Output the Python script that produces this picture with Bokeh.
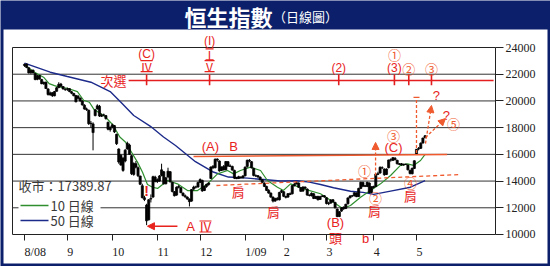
from bokeh.plotting import figure
from bokeh.models import Range1d, FixedTicker, Arrow, NormalHead, TeeHead, LinearAxis
from bokeh.core.properties import value
from bokeh.embed import file_html
from bokeh.resources import INLINE

# ---------------- data ----------------
# daily Hang Seng Index candles, trading-day index 0 = 1 Aug 2008 ... 187 = 8 May 2009
opens = [
    22650, 22760, 22480, 22120, 22300, 22050, 21620, 21900, 21600, 21300, 21400, 20900, 20450, 20620, 20380, 20720, 21000, 21260, 21080, 20880,
    20880, 20920, 20680, 20560, 20400, 20350, 20220, 19990, 19680, 19400, 19300, 18330, 18280, 18900, 19400, 19600, 18850, 18950, 18900, 18400, 17850,
    18050, 18150, 17500, 16400, 15200, 15700, 15500, 16400, 16700, 15900, 14500, 15300, 15000, 14380, 13650, 12750, 12200, 11100, 12650, 12800, 14300,
    14100, 14000, 14420, 14700, 13800, 14300, 14700, 13900, 13200, 12950, 13600, 13500, 13100, 12900, 12800, 12650, 12500, 13400, 13560, 13560,
    13900, 14050, 13300, 13600, 13750, 14200, 15100, 15000, 15650, 15500, 14800, 15100, 14850, 15450, 15100, 15100, 14800, 14250, 14200, 14300, 14250,
    14400, 15100, 15550, 15450, 14950, 14400, 14400, 14300, 14100, 13850, 13600, 13300, 13100, 12800, 12500, 12700, 12600, 13200,
    13200, 12850, 12800, 13050, 13050, 13650, 13780, 13850, 13500, 13250, 13550, 13400, 12950, 12900, 13050, 12700, 12850, 12620, 12850, 12900,
    12750, 12300, 12350, 12600, 12400, 11900, 11350, 11750, 12050, 11950, 12300, 12750, 12900, 12900, 13100, 12850, 13450, 13900, 13650, 13600, 13850, 13150,
    13600, 13600, 14500, 14600, 15000, 14900, 14500, 15000, 15600, 15550, 15700, 15550, 15250, 15300, 15200, 15250, 15200, 14800, 14550, 14950,
    16000, 16400, 16450, 16850, 17250,
]
highs = [
    22800, 22800, 22500, 22350, 22350, 22100, 21950, 21950, 21650, 21450, 21450, 20950, 20700, 20650, 20750, 21050, 21400, 21350, 21100, 20950,
    21000, 20950, 20750, 20600, 20450, 20450, 20250, 20050, 19750, 19500, 19350, 18500, 18400, 19400, 19750, 19700, 19050, 19050, 18950, 18450, 18100,
    18300, 18200, 17550, 16450, 16000, 15800, 16400, 16950, 16800, 15950, 15400, 15500, 15100, 14400, 13800, 12900, 12300, 12650, 13000, 14400, 14400,
    14200, 14450, 15300, 14750, 14300, 15000, 14750, 13950, 13250, 13600, 13700, 13550, 13150, 13000, 12850, 12700, 13400, 13650, 13650, 13950,
    14200, 14100, 13650, 13800, 13900, 15100, 15200, 15700, 15700, 15550, 15100, 15200, 15500, 15500, 15250, 15150, 14850, 14300, 14400, 14350, 14400,
    15100, 15600, 15650, 15500, 15000, 14500, 14450, 14350, 14150, 13900, 13650, 13400, 13150, 12850, 12750, 12800, 13200, 13350,
    13250, 12900, 13100, 13150, 13700, 13850, 14000, 13900, 13550, 13600, 13600, 13450, 13000, 13150, 13100, 12900, 12900, 12900, 12950, 12950,
    12800, 12450, 12650, 12650, 12450, 11950, 11750, 12050, 12100, 12300, 12780, 12950, 12950, 13150, 13150, 13500, 13950, 13950, 13700, 13950, 13900, 13600,
    13650, 14550, 14700, 15100, 15100, 14950, 14950, 15600, 15700, 15800, 15800, 15600, 15350, 15350, 15300, 15300, 15250, 14850, 15000, 15550,
    16400, 16550, 16900, 17250, 17450,
]
lows = [
    22550, 22450, 22050, 22000, 22050, 21550, 21550, 21600, 21250, 21200, 20900, 20400, 20400, 20300, 20350, 20700, 20950, 21050, 20850, 20750,
    20750, 20650, 20500, 20350, 19900, 20100, 19950, 19650, 19350, 19250, 18200, 18000, 16300, 18850, 19350, 18800, 18800, 18850, 18600, 17800, 17700,
    17950, 17600, 16700, 15300, 15150, 14700, 15400, 16350, 15950, 14450, 14400, 14950, 14300, 13700, 12700, 12500, 10700, 11050, 12400, 12750, 13900,
    13850, 13950, 14350, 13750, 13750, 14250, 13900, 13150, 12850, 12900, 13450, 13100, 12850, 12750, 12600, 12100, 12450, 13300, 13450, 13500,
    13850, 13200, 13250, 13500, 13650, 14150, 14900, 14950, 15450, 14700, 14750, 14800, 14800, 15050, 15050, 14780, 14150, 14150, 14150, 14200, 14200,
    14350, 15000, 15400, 14950, 14350, 14300, 14250, 14050, 13850, 13550, 13250, 13050, 12750, 12400, 12450, 12550, 12550, 13100,
    12800, 12700, 12750, 12950, 13000, 13600, 13750, 13500, 13200, 13200, 13400, 12900, 12850, 12850, 12650, 12650, 12550, 12600, 12800, 12750,
    12250, 12200, 12300, 12400, 11950, 11300, 11300, 11700, 11850, 11900, 12250, 12700, 12800, 12850, 12800, 12800, 13400, 13550, 13550, 13550, 13100, 13100,
    13450, 13550, 14450, 14550, 14900, 14400, 14450, 14950, 15450, 15500, 15550, 15250, 15200, 15150, 15150, 15200, 14800, 14500, 14500, 14900,
    15950, 16300, 16400, 16800, 17200,
]
closes = [
    22740, 22510, 22100, 22270, 22100, 21600, 21880, 21640, 21290, 21390, 20930, 20480, 20600, 20390, 20700, 20980, 21250, 21100, 20900, 20850,
    20900, 20700, 20580, 20390, 19930, 20200, 20000, 19700, 19390, 19350, 18300, 18300, 17630, 19330, 19630, 18870, 18930, 18950, 18680, 17880, 18020,
    18210, 17680, 16800, 15430, 15940, 14800, 16310, 16830, 16000, 14550, 15320, 15040, 14400, 13760, 12760, 12620, 11020, 12600, 12700, 14330, 13970,
    13970, 14380, 14840, 13790, 14240, 14740, 13940, 13220, 12900, 13540, 13530, 13130, 12920, 12820, 12660, 12460, 13370, 13550, 13550, 13890,
    14110, 13260, 13590, 13760, 13850, 15050, 15000, 15630, 15570, 14760, 15050, 14830, 15460, 15130, 15130, 14820, 14220, 14180, 14330, 14240, 14390,
    15040, 15560, 15510, 14990, 14420, 14380, 14300, 14100, 13900, 13600, 13300, 13100, 12800, 12500, 12700, 12600, 13150, 13280,
    12860, 12780, 13060, 13000, 13660, 13770, 13880, 13540, 13230, 13560, 13460, 12950, 12920, 13090, 12700, 12840, 12600, 12830, 12890, 12810,
    12320, 12330, 12580, 12430, 12000, 11340, 11700, 12000, 11920, 12260, 12740, 12880, 12880, 13130, 12830, 13450, 13910, 13620, 13610, 13910, 13130, 13580,
    13520, 14520, 14550, 15030, 14990, 14470, 14900, 15580, 15570, 15750, 15600, 15290, 15290, 15210, 15260, 15260, 14840, 14560, 14960, 15520,
    16380, 16430, 16830, 17220, 17389.87,
]
days = list(range(len(closes)))

# moving averages (trading-day index, value)
ma10_day = [0, 4.7, 8.9, 11.5, 14, 16, 20, 24.7, 27.6, 30.3, 32.5, 37.5, 41.3, 44.5, 47.2, 50.4, 52.8, 55.1, 57.4, 59.8,
            62.1, 66.8, 71.4, 76.1, 80.8, 85.4, 90.1, 94.8, 97.6, 100.8, 105.5, 110.2, 113.4, 118.1, 120.9, 124.2,
            130.3, 138.2, 144.3, 148.5, 152.2, 156.9, 161.5, 166.2, 170.9, 175.5, 178.8, 181.6, 184.9, 187]
ma10_val = [22700, 22150, 21780, 21300, 21150, 21050, 20950, 20700, 20050, 19900, 19350, 18850, 18200, 17300, 16910, 16050, 15400, 14660, 13750, 13540,
            13450, 14040, 13790, 13290, 13290, 13790, 14540, 14790, 14540, 14790, 15040, 14790, 14040, 13540, 13300, 13790,
            13420, 13050, 12420, 11950, 12170, 12790, 13290, 13790, 14420, 15170, 15290, 15170, 15540, 16000]
ma50_day = [0, 12, 20, 31, 40, 45, 51, 58.8, 64.9, 70.5, 79.8, 87.8, 95.2, 104.1, 111.6, 119.5, 127.5, 133, 138.2, 144.3,
            152.2, 158, 163, 170.9, 180.2, 187]
ma50_val = [22830, 22150, 21830, 21400, 20700, 19900, 18910, 18100, 17300, 16660, 15450, 14700, 14300, 14220, 14120, 14000, 14020, 13920, 13740, 13500,
            13240, 13150, 13000, 13250, 13540, 14040]

month_ticks = [0, 20, 41, 62, 82, 103, 121, 141, 163, 183]
month_labels = ["8/08", "9", "10", "11", "12", "1/09", "2", "3", "4", "5"]
y_ticks = [10000, 12000, 14000, 16000, 18000, 20000, 22000, 24000]
last_close = "17389.87"

# ---------------- layout helpers ----------------
W, H = 550, 266
PX_DAY = 2.142          # pixels per trading day
X0_PX = 24.0            # pixel of day 0
Y_TOP_PX = 47.0         # pixel of 24000
PX_UNIT = 0.013357      # pixels per index point


def px2x(px):
    return (px - X0_PX) / PX_DAY


def px2y(py):
    return y_ticks[-1] - (py - Y_TOP_PX) / PX_UNIT


NAVY = "#0b1f6b"
RED = "#e8231d"
ORANGE = "#ef5a2e"
GREEN = "#2f8f2f"
BLUE = "#1c2a8a"
SANS = "Liberation Sans"
CJK = "Noto Sans CJK TC"
SERIF = "Liberation Serif"

p = figure(width=W, height=H, output_backend="svg", toolbar_location=None,
           x_range=Range1d(px2x(0), px2x(W)), y_range=Range1d(px2y(H), px2y(0)),
           min_border=0, x_axis_location="below", y_axis_location="right")
p.background_fill_color = NAVY
p.border_fill_color = NAVY
p.outline_line_color = None
p.xgrid.visible = False
p.ygrid.visible = False

# white panel
p.quad(left=px2x(3), right=px2x(547), bottom=px2y(263), top=px2y(29),
       fill_color="white", line_color=None)

XL = px2x(12)
XR = px2x(495)

# frame lines and grid
p.line(x=[XL, XL, XR], y=[y_ticks[0], y_ticks[-1], y_ticks[-1]], line_color="#222222", line_width=1)
p.segment(x0=[XL] * (len(y_ticks) - 2), x1=[XR] * (len(y_ticks) - 2),
          y0=y_ticks[1:-1], y1=y_ticks[1:-1], line_color="#333333", line_width=1)

# legend box (hides grid behind it)
p.quad(left=px2x(18), right=px2x(100), bottom=px2y(231), top=px2y(196),
       fill_color="white", line_color=None)

# title
p.text(x=[px2x(228)], y=[px2y(15)], text=["恒生指數"], text_font=value(CJK), text_font_size="22px",
       text_font_style="bold", text_color="white", text_align="center", text_baseline="middle")
p.text(x=[px2x(305)], y=[px2y(16)], text=["（日線圖）"], text_font=value(CJK), text_font_size="13px",
       text_color="white", text_align="center", text_baseline="middle")

# moving averages
p.line(x=ma50_day, y=ma50_val, line_color=BLUE, line_width=1.4)
p.line(x=ma10_day, y=ma10_val, line_color=GREEN, line_width=1.2)

# candles
tops = [max(o, c) for o, c in zip(opens, closes)]
bots = [min(o, c) for o, c in zip(opens, closes)]
p.segment(x0=days, x1=days, y0=lows, y1=highs, line_color="black", line_width=1)
p.vbar(x=days, width=1.0, top=tops, bottom=bots, fill_color="black", line_color="black", line_width=0.7)


def txt(x, y, s, size, color=RED, font=SANS, align="center", style="normal"):
    p.text(x=[x], y=[y], text=[s], text_font=value(font), text_font_size=f"{size}px",
           text_color=color, text_align=align, text_baseline="middle", text_font_style=style)


def roman(x, y, s, half_px, size=12):
    # Roman numeral drawn with the bars above and below, as in the source
    txt(x, y, s, size, font=CJK)
    dx = half_px / PX_DAY
    dy = 5.5 / PX_UNIT
    p.segment(x0=[x - dx] * 2, x1=[x + dx] * 2, y0=[y - dy, y + dy], y1=[y - dy, y + dy],
              line_color=RED, line_width=1.2)


# ---- wave annotations ----
LINE_Y = 21530
p.line(x=[48.6, 219.0], y=[LINE_Y, LINE_Y], line_color="#e41e1e", line_width=1.6)
wave_ticks = [57, 86.4, 146.7, 172.7, 179.4, 190.0]
p.segment(x0=wave_ticks, x1=wave_ticks, y0=[22000] * 6, y1=[21180] * 6, line_color="#e41e1e", line_width=1.6)
txt(47.6, LINE_Y, "次選", 13, font=CJK, align="right")
txt(57, 23550, "(C)", 12)
roman(57, 22600, "Ⅳ", 6)
txt(86.4, 24520, "(I)", 12)
roman(86.4, 23480, "Ⅰ", 4)
roman(86.4, 22600, "Ⅴ", 5)
txt(146.7, 22440, "(2)", 12)
txt(172.7, 23480, "①", 13, color=ORANGE, font=CJK)
txt(172.7, 22440, "(3)", 12)
txt(179.4, 22460, "②", 13, color=ORANGE, font=CJK)
txt(190.0, 22460, "③", 13, color=ORANGE, font=CJK)

# neckline (A)-B
p.line(x=[78.9, 197.3], y=[15840, 15990], line_color=ORANGE, line_width=1.3)
txt(86.8, 16590, "(A)", 13)
txt(97.6, 16590, "B", 13)
# dashed shoulder line
p.line(x=[89.6, 203.5], y=[13670, 14490], line_color=ORANGE, line_width=1.3, line_dash="4 3")

txt(99.8, 13220, "肩", 13, font=CJK)
txt(116.2, 11720, "肩", 13, font=CJK)
txt(163.4, 11800, "肩", 13, font=CJK)
txt(180.2, 12920, "肩", 13, font=CJK)
txt(145.2, 10900, "(B)", 13)
txt(145.2, 9780, "頭", 13, font=CJK)
txt(159.2, 9700, "b", 13)

txt(158.7, 14790, "①", 13, color=ORANGE, font=CJK)
txt(163.9, 12770, "②", 13, color=ORANGE, font=CJK)
txt(172.3, 17420, "③", 13, color=ORANGE, font=CJK)
txt(172.3, 16520, "(C)", 13)
txt(180.2, 13890, "④", 13, color=ORANGE, font=CJK)
txt(200.3, 18310, "⑤", 13, color=ORANGE, font=CJK)
txt(192.3, 20420, "?", 13)
txt(197.0, 18920, "?", 13)
txt(57, 13290, "!", 14, style="bold")

# arrows
p.add_layout(Arrow(end=NormalHead(size=7, fill_color=ORANGE, line_color=ORANGE),
                   x_start=163.9, y_start=14420, x_end=163.9, y_end=16890,
                   line_color=ORANGE, line_width=1.3, line_dash="3 2"))
p.add_layout(Arrow(end=TeeHead(size=6, line_color=ORANGE, line_width=1.3),
                   x_start=183.0, y_start=16100, x_end=183.0, y_end=20260,
                   line_color=ORANGE, line_width=1.3, line_dash="3 2"))
p.add_layout(Arrow(end=NormalHead(size=7, fill_color=ORANGE, line_color=ORANGE),
                   x_start=187.2, y_start=16810, x_end=190.0, y_end=19660,
                   line_color=ORANGE, line_width=1.3, line_dash="3 2"))
p.add_layout(Arrow(end=NormalHead(size=7, fill_color=ORANGE, line_color=ORANGE),
                   x_start=187.2, y_start=17260, x_end=196.5, y_end=18680,
                   line_color=ORANGE, line_width=1.3, line_dash="3 2"))
p.add_layout(Arrow(end=NormalHead(size=7, fill_color=RED, line_color=RED),
                   x_start=71.4, y_start=10620, x_end=57.4, y_end=10620,
                   line_color=RED, line_width=1.5))
txt(77.5, 10600, "A", 13)
roman(84.5, 10600, "Ⅳ", 6, size=13)

# legend
p.text(x=[px2x(18)], y=[px2y(185)], text=["收市：" + last_close], text_font=value(CJK),
       text_font_size="13px", text_color="#3a3a3a", text_align="left", text_baseline="middle")
p.line(x=[px2x(20), px2x(48)], y=[px2y(205)] * 2, line_color=GREEN, line_width=1.5)
p.line(x=[px2x(20), px2x(48)], y=[px2y(220)] * 2, line_color=BLUE, line_width=1.5)
p.text(x=[px2x(50)] * 2, y=[px2y(205), px2y(220)], text=["10 日線", "50 日線"], text_font=value(CJK),
       text_font_size="13px", text_color="#3a3a3a", text_align="left", text_baseline="middle")

# axes (drawn inside the frame at fixed locations)
ya = p.yaxis[0]
ya.fixed_location = XR
ya.bounds = (y_ticks[0], y_ticks[-1])
ya.ticker = FixedTicker(ticks=y_ticks)
ya.major_tick_out = 8
ya.major_tick_in = 0
ya.minor_tick_out = 0
ya.minor_tick_in = 0
ya.major_label_standoff = 2
ya.axis_line_color = "#222222"
ya.major_tick_line_color = "#222222"
ya.major_label_text_font = SERIF
ya.major_label_text_font_size = "12px"
ya.major_label_text_color = "#222222"

# month tick marks
xa = p.xaxis[0]
xa.fixed_location = y_ticks[0]
xa.bounds = (XL, XR)
xa.ticker = FixedTicker(ticks=month_ticks)
xa.major_label_overrides = {t: "" for t in month_ticks}
xa.major_tick_out = 6
xa.major_tick_in = 0
xa.minor_tick_out = 0
xa.minor_tick_in = 0
xa.axis_line_color = "#222222"
xa.major_tick_line_color = "#222222"


# month labels: set flush-left against their tick, as in the source
def half_width_px(label):
    return sum(6.0 if ch.isdigit() else 3.5 for ch in label) / 2


label_pos = [round(t + half_width_px(lab) / PX_DAY, 3) for t, lab in zip(month_ticks, month_labels)]
la = LinearAxis(ticker=FixedTicker(ticks=label_pos),
                major_label_overrides={t: lab for t, lab in zip(label_pos, month_labels)},
                fixed_location=y_ticks[0], axis_line_color=None,
                major_tick_out=0, major_tick_in=0, minor_tick_out=0, minor_tick_in=0,
                major_label_standoff=11, major_label_text_font=SERIF,
                major_label_text_font_size="12px", major_label_text_color="#222222")
p.add_layout(la, "below")

open("out.html", "w").write(file_html(p, INLINE))
